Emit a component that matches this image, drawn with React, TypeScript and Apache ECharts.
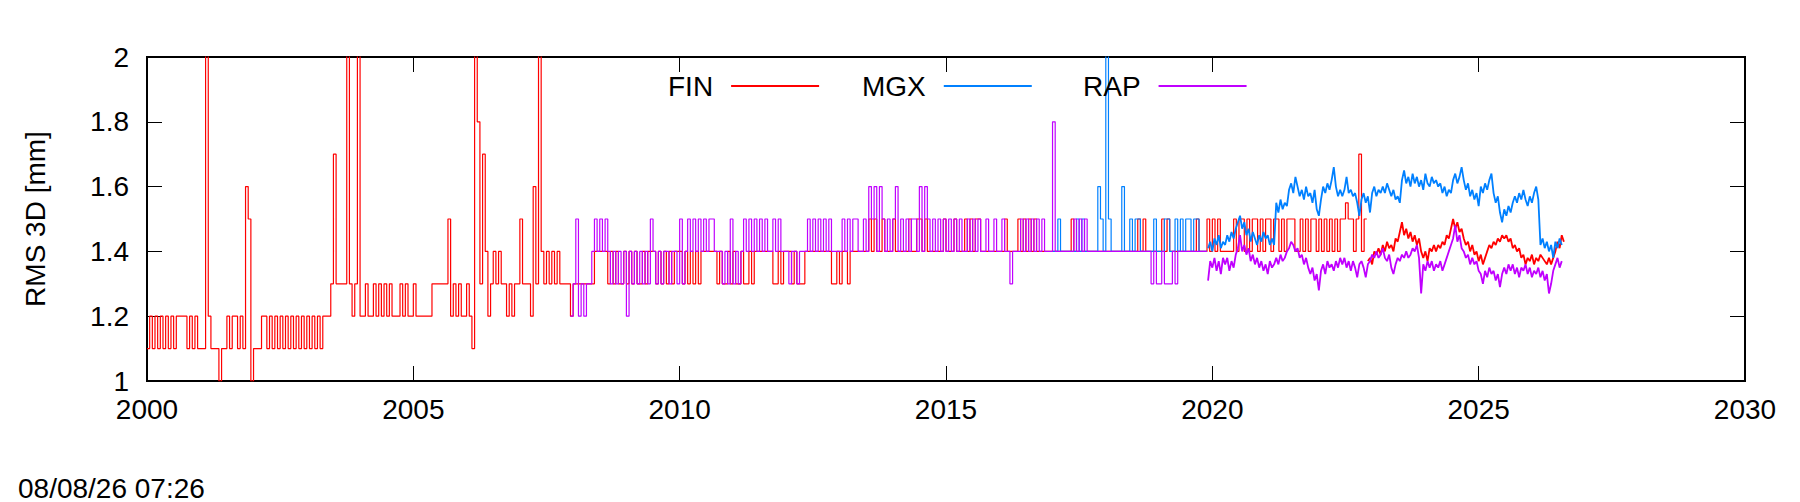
import React, { useEffect, useRef } from "react";
import * as echarts from "echarts";

// ---- axis ranges / tick labels ----
const X_MIN = 2000;
const X_MAX = 2030;
const X_INTERVAL = 5;
const Y_MIN = 1;
const Y_MAX = 2;
const Y_INTERVAL = 0.2;

const Y_TITLE = "RMS 3D [mm]";
const TIMESTAMP = "08/08/26 07:26";

const SERIES_NAMES = ["FIN", "MGX", "RAP"];
const SERIES_COLORS = ["#ff0000", "#0080ff", "#c000ff"];

// ---- sampling of the read-off values (decimal years) ----
const STEP_DT = 0.05; // quantised (0.1 mm) era
const NOISE_DT = 0.04; // fine-resolution era

// FIN, 0.1 mm quantised values, from 2000.00
const FIN_STEP_START = 2000.0;
const finStep = [
  1.1,1.2,1.1,1.2,1.1,1.2,1.1,1.2,1.1,1.2,
  1.1,1.2,1.2,1.2,1.2,1.1,1.2,1.1,1.2,1.1,
  1.1,1.1,2.6,1.2,1.1,1.1,1.1,1.0,1.1,1.1,
  1.2,1.1,1.2,1.2,1.1,1.2,1.1,1.6,1.5,1.0,
  1.1,1.1,1.1,1.2,1.2,1.1,1.2,1.1,1.2,1.1,
  1.2,1.1,1.2,1.1,1.2,1.1,1.2,1.1,1.2,1.1,
  1.2,1.1,1.2,1.1,1.2,1.1,1.2,1.2,1.2,1.3,
  1.7,1.3,1.3,1.3,1.3,2.6,1.3,1.2,1.3,2.6,
  1.2,1.2,1.3,1.2,1.2,1.3,1.2,1.3,1.2,1.3,
  1.2,1.3,1.2,1.2,1.2,1.3,1.2,1.3,1.2,1.2,
  1.3,1.2,1.2,1.2,1.2,1.2,1.2,1.3,1.3,1.3,
  1.3,1.3,1.3,1.5,1.2,1.3,1.2,1.3,1.2,1.2,
  1.3,1.2,1.1,2.6,1.8,1.3,1.7,1.4,1.2,1.3,
  1.4,1.3,1.4,1.3,1.3,1.2,1.3,1.2,1.3,1.3,
  1.5,1.3,1.3,1.3,1.2,1.6,1.3,2.6,1.4,1.3,
  1.4,1.3,1.4,1.3,1.4,1.3,1.3,1.3,1.3,1.2,
  1.3,1.3,1.3,1.3,1.3,1.3,1.3,1.3,1.4,1.4,
  1.4,1.4,1.4,1.3,1.4,1.3,1.4,1.3,1.3,1.4,
  1.3,1.4,1.3,1.4,1.3,1.3,1.4,1.3,1.4,1.4,
  1.4,1.3,1.4,1.3,1.4,1.3,1.4,1.3,1.4,1.4,
  1.4,1.3,1.4,1.3,1.4,1.3,1.4,1.3,1.4,1.4,
  1.4,1.4,1.4,1.4,1.3,1.4,1.3,1.3,1.4,1.3,
  1.4,1.3,1.3,1.4,1.3,1.3,1.4,1.3,1.4,1.4,
  1.4,1.4,1.4,1.4,1.4,1.3,1.3,1.4,1.3,1.4,
  1.4,1.4,1.3,1.4,1.3,1.3,1.3,1.4,1.4,1.4,
  1.4,1.4,1.4,1.4,1.4,1.4,1.4,1.3,1.3,1.4,
  1.3,1.4,1.4,1.3,1.4,1.4,1.4,1.4,1.4,1.4,
  1.4,1.5,1.4,1.5,1.4,1.4,1.5,1.4,1.4,1.4,
  1.5,1.4,1.4,1.4,1.4,1.4,1.5,1.4,1.4,1.5,
  1.5,1.4,1.5,1.4,1.4,1.4,1.4,1.4,1.4,1.5,
  1.4,1.4,1.4,1.5,1.4,1.4,1.4,1.5,1.4,1.5,
  1.4,1.5,1.5,1.4,1.4,1.4,1.4,1.4,1.4,1.4,
  1.4,1.4,1.5,1.4,1.4,1.4,1.4,1.5,1.4,1.5,
  1.4,1.5,1.4,1.5,1.4,1.4,1.4,1.4,1.4,1.4,
  1.4,1.4,1.4,1.4,1.4,1.4,1.4,1.5,1.4,1.4,
  1.4,1.4,1.4,1.4,1.4,1.4,1.4,1.4,1.4,1.4,
  1.4,1.4,1.4,1.4,1.4,1.4,1.4,1.4,1.4,1.4,
  1.4,1.4,1.5,1.4,1.5,1.4,1.4,1.4,1.4,1.4,
  1.4,1.5,1.4,1.5,1.4,1.4,1.4,1.4,1.4,1.4,
  1.4,1.4,1.4,1.4,1.5,1.4,1.4,1.4,1.5,1.4,
  1.5,1.4,1.5,1.4,1.4,1.4,1.4,1.4,1.5,1.4,
  1.5,1.5,1.4,1.5,1.4,1.5,1.5,1.4,1.5,1.4,
  1.5,1.5,1.4,1.5,1.5,1.4,1.5,1.4,1.5,1.5,
  1.5,1.4,1.4,1.5,1.4,1.5,1.4,1.5,1.5,1.4,
  1.5,1.4,1.5,1.4,1.5,1.4,1.5,1.4,1.5,1.5,
  1.55,1.5,1.5,1.4,1.5,1.7,1.4,1.5,1.5,
];

// FIN, fine resolution, from 2022.92
const FIN_NOISE_START = 2022.92;
const finNoise = [
  1.37,1.38,1.36,1.40,1.39,1.41,1.39,1.42,1.40,1.43,
  1.41,1.42,1.40,1.44,1.43,1.46,1.49,1.45,1.47,1.44,
  1.46,1.43,1.45,1.42,1.44,1.40,1.38,1.40,1.37,1.41,
  1.40,1.42,1.40,1.42,1.41,1.43,1.42,1.45,1.44,1.47,
  1.50,1.47,1.49,1.46,1.47,1.44,1.42,1.43,1.40,1.42,
  1.39,1.40,1.37,1.39,1.36,1.38,1.40,1.42,1.41,1.43,
  1.42,1.44,1.43,1.45,1.44,1.45,1.43,1.44,1.41,1.42,
  1.40,1.41,1.38,1.39,1.36,1.38,1.37,1.39,1.36,1.38,
  1.37,1.39,1.38,1.37,1.36,1.38,1.36,1.38,1.40,1.43,
  1.41,1.45,1.43,
];

// MGX, 0.1 mm quantised values, from 2017.00
const MGX_STEP_START = 2017.0;
const mgxStep = [
  1.4,1.4,1.5,1.4,1.4,1.4,1.4,1.4,1.4,1.5,
  1.4,1.5,1.4,1.4,1.4,1.4,1.4,1.6,1.5,1.4,
  2.3,1.5,1.4,1.4,1.4,1.4,1.6,1.4,1.4,1.5,
  1.4,1.5,1.5,1.4,1.4,1.4,1.4,1.4,1.5,1.4,
  1.4,1.4,1.5,1.5,1.4,1.4,1.5,1.4,1.5,1.4,
  1.5,1.5,1.4,1.5,1.5,1.4,1.4,1.4,1.4,
];

// MGX, fine resolution, from 2019.92
const MGX_NOISE_START = 2019.92;
const mgxNoise = [
  1.41,1.43,1.40,1.44,1.42,1.45,1.41,1.43,1.42,1.45,
  1.43,1.46,1.44,1.47,1.49,1.51,1.47,1.49,1.45,1.47,
  1.43,1.46,1.44,1.42,1.45,1.43,1.46,1.44,1.45,1.42,
  1.44,1.42,1.55,1.52,1.56,1.53,1.55,1.54,1.59,1.61,
  1.58,1.63,1.60,1.57,1.59,1.56,1.60,1.57,1.58,1.55,
  1.59,1.53,1.51,1.56,1.60,1.58,1.61,1.59,1.62,1.66,
  1.60,1.57,1.59,1.57,1.59,1.63,1.58,1.59,1.57,1.58,
  1.55,1.51,1.56,1.58,1.55,1.57,1.52,1.58,1.60,1.57,
  1.59,1.58,1.60,1.58,1.61,1.59,1.57,1.59,1.56,1.57,
  1.55,1.62,1.65,1.61,1.63,1.60,1.64,1.61,1.63,1.60,
  1.62,1.59,1.64,1.61,1.60,1.63,1.61,1.62,1.60,1.61,
  1.58,1.60,1.57,1.59,1.58,1.62,1.64,1.61,1.63,1.66,
  1.62,1.59,1.61,1.57,1.59,1.56,1.58,1.54,1.60,1.58,
  1.61,1.59,1.62,1.64,1.58,1.55,1.57,1.52,1.49,1.53,
  1.51,1.54,1.52,1.55,1.57,1.55,1.58,1.56,1.59,1.56,
  1.54,1.57,1.55,1.58,1.60,1.56,1.42,1.44,1.41,1.43,
  1.40,1.42,1.38,1.43,1.41,1.44,1.42,
];

// RAP, 0.1 mm quantised values, from 2007.95
const RAP_STEP_START = 2007.95;
const rapStep = [
  1.2,
  1.3,1.5,1.2,1.3,1.2,1.3,1.3,1.4,1.5,1.4,
  1.5,1.4,1.5,1.4,1.3,1.4,1.3,1.4,1.3,1.4,
  1.2,1.4,1.3,1.4,1.3,1.4,1.3,1.4,1.3,1.5,
  1.4,1.3,1.4,1.3,1.4,1.4,1.3,1.4,1.4,1.3,
  1.5,1.3,1.4,1.5,1.4,1.5,1.4,1.5,1.4,1.5,
  1.4,1.5,1.5,1.4,1.4,1.4,1.3,1.4,1.3,1.5,
  1.3,1.4,1.3,1.4,1.5,1.4,1.5,1.4,1.5,1.4,
  1.5,1.4,1.5,1.4,1.4,1.5,1.4,1.5,1.4,1.4,
  1.4,1.3,1.4,1.4,1.3,1.4,1.4,1.4,1.5,1.4,
  1.5,1.4,1.5,1.4,1.5,1.4,1.5,1.4,1.4,1.4,
  1.4,1.5,1.4,1.5,1.4,1.5,1.5,1.4,1.4,1.5,
  1.4,1.6,1.5,1.6,1.4,1.6,1.5,1.4,1.5,1.4,
  1.5,1.6,1.4,1.5,1.4,1.5,1.4,1.5,1.5,1.4,
  1.6,1.4,1.6,1.5,1.4,1.5,1.4,1.5,1.4,1.5,
  1.4,1.5,1.4,1.5,1.4,1.5,1.4,1.4,1.5,1.4,
  1.5,1.4,1.5,1.4,1.4,1.5,1.4,1.4,1.5,1.4,
  1.4,1.5,1.4,1.4,1.3,1.4,1.4,1.4,1.5,1.4,
  1.5,1.4,1.5,1.4,1.5,1.4,1.5,1.4,1.4,1.4,
  1.8,1.4,1.4,1.4,1.4,1.4,1.4,1.4,1.5,1.4,
  1.5,1.4,1.5,1.4,1.4,1.4,1.4,1.4,1.4,1.4,
  1.4,1.4,1.4,1.4,1.4,1.4,1.4,1.4,1.4,1.4,
  1.4,1.4,1.4,1.4,1.4,1.4,1.4,1.3,1.4,1.3,
  1.3,1.4,1.3,1.3,1.3,1.4,1.3,1.4,1.4,1.4,
  1.4,1.4,1.4,1.4,1.4,1.4,1.4,1.4,1.4,
];

// RAP, fine resolution, from 2019.92
const RAP_NOISE_START = 2019.92;
const rapNoise = [
  1.31,1.37,1.35,1.38,1.34,1.37,1.33,1.38,1.36,1.38,
  1.34,1.37,1.35,1.39,1.41,1.45,1.40,1.42,1.39,1.41,
  1.37,1.39,1.36,1.38,1.35,1.37,1.34,1.36,1.33,1.37,
  1.35,1.36,1.38,1.36,1.39,1.37,1.38,1.40,1.41,1.43,
  1.42,1.40,1.41,1.38,1.39,1.36,1.38,1.35,1.33,1.35,
  1.31,1.33,1.28,1.34,1.36,1.33,1.37,1.35,1.36,1.34,
  1.37,1.35,1.38,1.36,1.38,1.35,1.37,1.34,1.37,1.35,
  1.32,1.36,1.37,1.35,1.32,1.36,1.37,1.39,1.38,1.40,
  1.38,1.39,1.41,1.38,1.37,1.39,1.35,1.33,1.36,1.38,
  1.37,1.39,1.38,1.40,1.38,1.39,1.41,1.40,1.42,1.38,
  1.27,1.36,1.34,1.37,1.35,1.37,1.34,1.36,1.35,1.37,
  1.34,1.36,1.38,1.40,1.42,1.44,1.48,1.43,1.45,1.41,
  1.40,1.38,1.39,1.36,1.38,1.36,1.37,1.34,1.33,1.30,
  1.34,1.32,1.35,1.33,1.34,1.31,1.33,1.29,1.33,1.35,
  1.33,1.36,1.34,1.36,1.33,1.35,1.32,1.35,1.34,1.36,
  1.33,1.35,1.32,1.34,1.33,1.35,1.32,1.34,1.31,1.33,
  1.27,1.30,1.34,1.36,1.38,1.35,1.37,
];

// legend text left edges (px)
const LEGEND_LEFT = [668, 862, 1083];

const FONT = "'Liberation Sans', Arial, Helvetica, sans-serif";

function toPairs(start: number, dt: number, vals: number[]) {
  return vals.map((v, k) => [Math.round((start + k * dt) * 10000) / 10000, v]);
}

function stepSeries(name: string, color: string, start: number, vals: number[]) {
  return {
    name,
    type: "line",
    step: "end",
    data: toPairs(start, STEP_DT, vals),
    showSymbol: false,
    symbol: "none",
    color,
    lineStyle: { color, width: 1.2 },
    clip: true,
    silent: true,
  };
}

function noiseSeries(name: string, color: string, start: number, vals: number[]) {
  return {
    name,
    type: "line",
    data: toPairs(start, NOISE_DT, vals),
    showSymbol: false,
    symbol: "none",
    color,
    lineStyle: { color, width: 1.8 },
    clip: true,
    silent: true,
  };
}

export default function App() {
  const ref = useRef<HTMLDivElement>(null);

  useEffect(() => {
    if (!ref.current) return;
    const chart = echarts.init(ref.current, undefined, { renderer: "svg" });
    const tick = { inside: true, length: 15, lineStyle: { color: "#000", width: 1 } };
    const option = {
      animation: false,
      textStyle: { fontFamily: FONT },
      grid: {
        left: 147,
        top: 57,
        width: 1598,
        height: 324,
        show: true,
        borderColor: "#000",
        borderWidth: 2,
        backgroundColor: "transparent",
      },
      xAxis: [
        {
          type: "value",
          min: X_MIN,
          max: X_MAX,
          interval: X_INTERVAL,
          position: "bottom",
          axisLine: { show: false },
          axisTick: tick,
          axisLabel: {
            fontSize: 28,
            color: "#000",
            margin: 14,
            fontFamily: FONT,
            formatter: (v: number) => String(v),
          },
          splitLine: { show: false },
        },
        {
          type: "value",
          min: X_MIN,
          max: X_MAX,
          interval: X_INTERVAL,
          position: "top",
          axisLine: { show: false },
          axisTick: tick,
          axisLabel: { show: false },
          splitLine: { show: false },
        },
      ],
      yAxis: [
        {
          type: "value",
          min: Y_MIN,
          max: Y_MAX,
          interval: Y_INTERVAL,
          position: "left",
          name: Y_TITLE,
          nameLocation: "middle",
          nameGap: 98,
          nameTextStyle: { fontSize: 28, color: "#000", fontFamily: FONT },
          axisLine: { show: false },
          axisTick: tick,
          axisLabel: {
            fontSize: 28,
            color: "#000",
            margin: 18,
            fontFamily: FONT,
            formatter: (v: number) => String(Math.round(v * 10) / 10),
          },
          splitLine: { show: false },
        },
        {
          type: "value",
          min: Y_MIN,
          max: Y_MAX,
          interval: Y_INTERVAL,
          position: "right",
          axisLine: { show: false },
          axisTick: tick,
          axisLabel: { show: false },
          splitLine: { show: false },
        },
      ],
      legend: SERIES_NAMES.map((n, k) => ({
        data: [n],
        left: LEGEND_LEFT[k],
        top: 72,
        orient: "horizontal",
        align: "right",
        icon: "rect",
        itemWidth: 88,
        itemHeight: 2,
        padding: 0,
        selectedMode: false,
        textStyle: { fontSize: 28, color: "#000", fontFamily: FONT, padding: [0, 13, 0, 0] },
      })),
      series: [
        stepSeries("FIN", SERIES_COLORS[0], FIN_STEP_START, finStep),
        noiseSeries("FIN", SERIES_COLORS[0], FIN_NOISE_START, finNoise),
        stepSeries("MGX", SERIES_COLORS[1], MGX_STEP_START, mgxStep),
        noiseSeries("MGX", SERIES_COLORS[1], MGX_NOISE_START, mgxNoise),
        stepSeries("RAP", SERIES_COLORS[2], RAP_STEP_START, rapStep),
        noiseSeries("RAP", SERIES_COLORS[2], RAP_NOISE_START, rapNoise),
      ],
      graphic: [
        {
          type: "text",
          left: 18,
          top: 474,
          style: { text: TIMESTAMP, fontSize: 28, fill: "#000", fontFamily: FONT },
        },
      ],
    };
    chart.setOption(option as any);
    return () => chart.dispose();
  }, []);

  return (
    <div
      ref={ref}
      style={{ position: "absolute", left: 0, top: 0, width: 1800, height: 502, background: "#fff" }}
    />
  );
}
